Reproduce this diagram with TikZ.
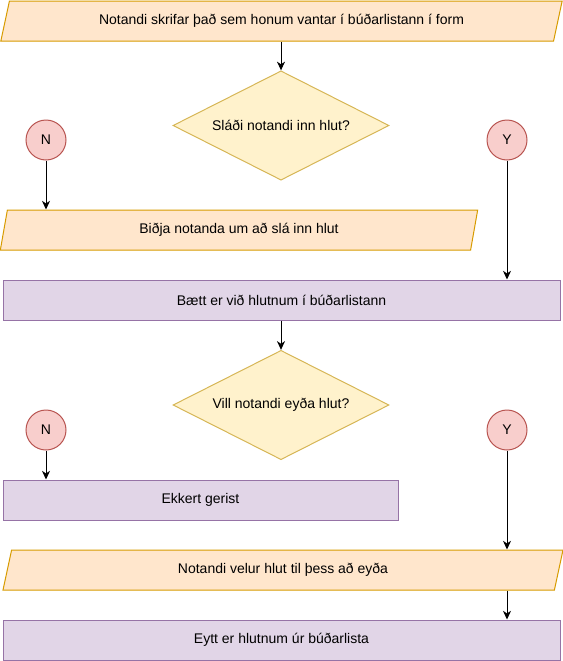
\documentclass[tikz,border=0pt]{standalone}
\usepackage{fontspec}
\setmainfont{Liberation Sans}
\usetikzlibrary{shapes,arrows.meta}
\definecolor{orfill}{HTML}{FFE6CC}
\definecolor{ordraw}{HTML}{D79B00}
\definecolor{jafill}{HTML}{FFF2CC}
\definecolor{jadraw}{HTML}{D6B656}
\definecolor{roufill}{HTML}{F8CECC}
\definecolor{roudraw}{HTML}{B85450}
\definecolor{vifill}{HTML}{E1D5E7}
\definecolor{vidraw}{HTML}{9673A6}

\begin{document}
\begin{tikzpicture}[x=0.75pt,y=-0.75pt,font=\fontsize{10.5}{12.5}\selectfont]
\useasboundingbox (0,0) rectangle (563,661);
%styledesnœuds
\tikzstyle{es}=[trapezium,trapezium left angle=57,trapezium right angle=123,
trapezium stretches body=true,draw=ordraw,fill=orfill,line width=0.75pt,
minimum height=30pt,inner sep=0pt]
\tikzstyle{test}=[diamond,aspect=2,draw=jadraw,fill=jafill,line width=0.75pt,
minimum width=162pt,minimum height=82pt,inner sep=0pt]
\tikzstyle{instruct}=[rectangle,draw=vidraw,fill=vifill,line width=0.75pt,
minimum height=30pt]
\tikzstyle{rep}=[circle,draw=roudraw,fill=roufill,line width=0.75pt,
minimum size=30pt,inner sep=0pt]
%styledesflèches
\tikzstyle{suite}=[-{Stealth[length=6.5pt,width=6pt,inset=2pt]},line width=0.75pt]
%placementdesnœuds
\node[es,minimum width=421pt] (skrifa) at (281.5,21) {Notandi skrifar það sem honum vantar í búðarlistann í form};
\node[test] (slaadi) at (281,125.5) {Sláði notandi inn hlut?};
\node[rep] (nei1) at (46,140) {N};
\node[rep] (ja1) at (507,140) {Y};
\node[es,trapezium left angle=62,trapezium right angle=118,minimum width=358pt] (bidja) at (239,230) {Biðja notanda um að slá inn hlut};
\node[instruct,minimum width=417.75pt] (baett) at (281.5,300) {Bætt er við hlutnum í búðarlistann};
\node[test] (eyda) at (281,405) {Vill notandi eyða hlut?};
\node[rep] (nei2) at (46,430) {N};
\node[rep] (ja2) at (507,430) {Y};
\node[instruct,minimum width=296.25pt] (ekkert) at (200.5,500) {Ekkert gerist};
\node[es,minimum width=420pt] (velur) at (283,570) {Notandi velur hlut til þess að eyða};
\node[instruct,minimum width=417.75pt] (eytt) at (281.5,640) {Eytt er hlutnum úr búðarlista};
%placementdesflèches
\draw[suite] (skrifa.south -| slaadi.north) -- (slaadi.north);
\draw[suite] (nei1.south) -- (nei1.south |- bidja.north);
\draw[suite] (ja1.south) -- (ja1.south |- baett.north);
\draw[suite] (baett.south -| eyda.north) -- (eyda.north);
\draw[suite] (nei2.south) -- (nei2.south |- ekkert.north);
\draw[suite] (ja2.south) -- (ja2.south |- velur.north);
\draw[suite] (ja2 |- velur.south) -- (ja2 |- eytt.north);
\end{tikzpicture}
\end{document}
